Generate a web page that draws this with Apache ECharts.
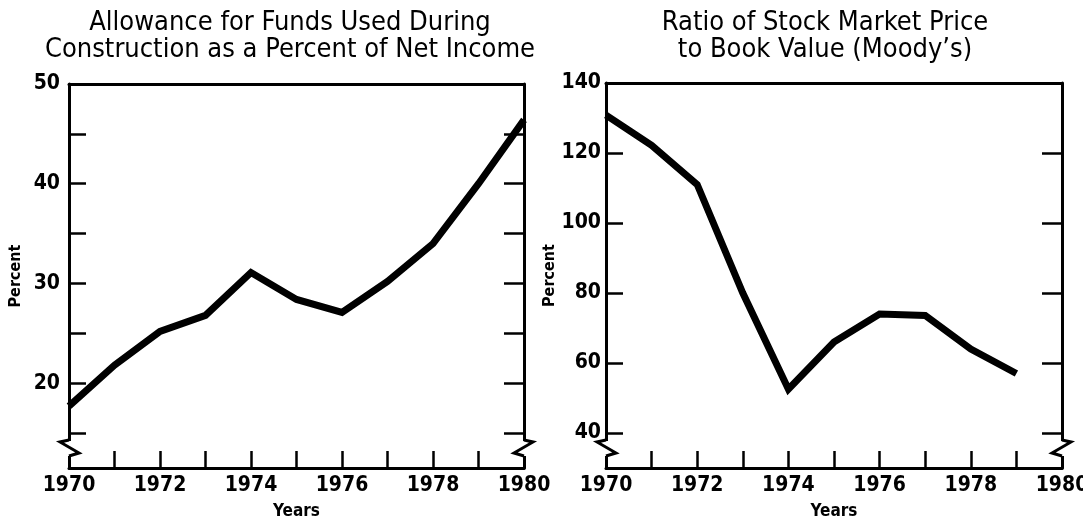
<!DOCTYPE html>
<html>
<head>
<meta charset="utf-8">
<script src="https://cdn.jsdelivr.net/npm/echarts@6.0.0/dist/echarts.min.js"></script>
<style>
  html, body { margin: 0; background: #fff; }
  #chart { width: 1083px; height: 519px; }
</style>
</head>
<body>
<div id="chart"></div>
<script>
// data
const years = ['1970', '1971', '1972', '1973', '1974', '1975', '1976', '1977', '1978', '1979', '1980'];
const afudcPct = [17.7, 21.8, 25.2, 26.8, 31.1, 28.4, 27.1, 30.2, 34.0, 40.0, 46.4];
const priceToBook = [130.8, 122.2, 111.0, 80.0, 52.5, 66.0, 74.0, 73.6, 64.0, 57.0, null];

const leftTicks = [15, 20, 25, 30, 35, 40, 45, 50];
const leftLabels = [20, 30, 40, 50];
const rightTicks = [40, 60, 80, 100, 120, 140];
const rightLabels = [40, 60, 80, 100, 120, 140];

const FONT = "'Liberation Sans Narrow', 'DejaVu Sans Condensed', sans-serif";
const INK = '#000';

const chart = echarts.init(document.getElementById('chart'));

function xAxes(gridIndex) {
    return [{
        type: 'category', gridIndex: gridIndex, data: years, boundaryGap: false,
        axisLine: { lineStyle: { color: INK, width: 3 } },
        axisTick: { inside: true, length: 17, interval: 0, lineStyle: { color: INK, width: 2.5 } },
        axisLabel: { interval: 1, margin: 7, color: INK, fontFamily: FONT, fontWeight: 'bold', fontSize: 21 },
        name: 'Years', nameLocation: 'middle', nameGap: 35,
        nameTextStyle: { color: INK, fontFamily: FONT, fontWeight: 'bold', fontSize: 17 }
    }, {
        // top edge of the box
        type: 'category', gridIndex: gridIndex, data: years, boundaryGap: false, position: 'top',
        axisLine: { lineStyle: { color: INK, width: 3 } },
        axisTick: { show: false }, axisLabel: { show: false }
    }];
}

function yAxes(gridIndex, min, max, ticks, labels, labelMargin, nameGap) {
    return [{
        type: 'value', gridIndex: gridIndex, min: min, max: max, splitLine: { show: false },
        axisLine: { show: true, lineStyle: { color: INK, width: 3 } },
        axisTick: { show: true, inside: true, length: 17, customValues: ticks, lineStyle: { color: INK, width: 2.5 } },
        axisLabel: { customValues: labels, margin: labelMargin, color: INK, fontFamily: FONT, fontWeight: 'bold', fontSize: 21 },
        name: 'Percent', nameLocation: 'middle', nameRotate: 90, nameGap: nameGap,
        nameTextStyle: { color: INK, fontFamily: FONT, fontWeight: 'bold', fontSize: 16 }
    }, {
        type: 'value', gridIndex: gridIndex, min: min, max: max, position: 'right', splitLine: { show: false },
        axisLine: { show: true, lineStyle: { color: INK, width: 3 } },
        axisTick: { show: true, inside: true, length: 20, customValues: ticks, lineStyle: { color: INK, width: 2.5 } },
        axisLabel: { show: false }
    }];
}

const lineStyle = { color: INK, width: 7, join: 'miter' };

chart.setOption({
    animation: false,
    backgroundColor: '#fff',
    title: [{
        text: 'Allowance for Funds Used During\nConstruction as a Percent of Net Income',
        left: 285, top: 4, textAlign: 'center',
        textStyle: { color: INK, fontFamily: FONT, fontWeight: 'normal', fontSize: 27, lineHeight: 27 }
    }, {
        text: 'Ratio of Stock Market Price\nto Book Value (Moody\u2019s)',
        left: 820, top: 4, textAlign: 'center',
        textStyle: { color: INK, fontFamily: FONT, fontWeight: 'normal', fontSize: 27, lineHeight: 27 }
    }],
    grid: [
        { left: 69, right: 559, top: 84, bottom: 51, outerBoundsMode: 'none' },
        { left: 606, right: 21, top: 83, bottom: 51, outerBoundsMode: 'none' }
    ],
    xAxis: [].concat(xAxes(0), xAxes(1)),
    yAxis: [].concat(
        yAxes(0, 11.5, 50, leftTicks, leftLabels, 9, 45),
        yAxes(1, 30, 140, rightTicks, rightLabels, 5, 41)
    ),
    series: [
        { type: 'line', xAxisIndex: 0, yAxisIndex: 0, data: afudcPct, showSymbol: false, lineStyle: lineStyle },
        { type: 'line', xAxisIndex: 2, yAxisIndex: 2, data: priceToBook, showSymbol: false, lineStyle: lineStyle }
    ]
});

// scale-break zigzags on both vertical edges of each panel
function breakMarks(xIdx, yIdx, minVal) {
    const x0 = chart.convertToPixel({ xAxisIndex: xIdx }, years[0]);
    const x1 = chart.convertToPixel({ xAxisIndex: xIdx }, years[years.length - 1]);
    const b = chart.convertToPixel({ yAxisIndex: yIdx }, minVal);
    const out = [];
    [[x0, -1], [x1, 1]].forEach(function (e) {
        const x = e[0], d = e[1];
        out.push({
            type: 'rect', z: 100,
            shape: { x: x - 3, y: b - 27, width: 6, height: 15 },
            style: { fill: '#fff' }
        });
        out.push({
            type: 'polyline', z: 101,
            shape: { points: [[x, b - 28], [x + d * 9, b - 26], [x - d * 10, b - 15], [x, b - 12]] },
            style: { stroke: INK, lineWidth: 3, fill: null }
        });
    });
    return out;
}

chart.setOption({ graphic: [].concat(breakMarks(0, 0, 11.5), breakMarks(2, 2, 30)) });
</script>
</body>
</html>
